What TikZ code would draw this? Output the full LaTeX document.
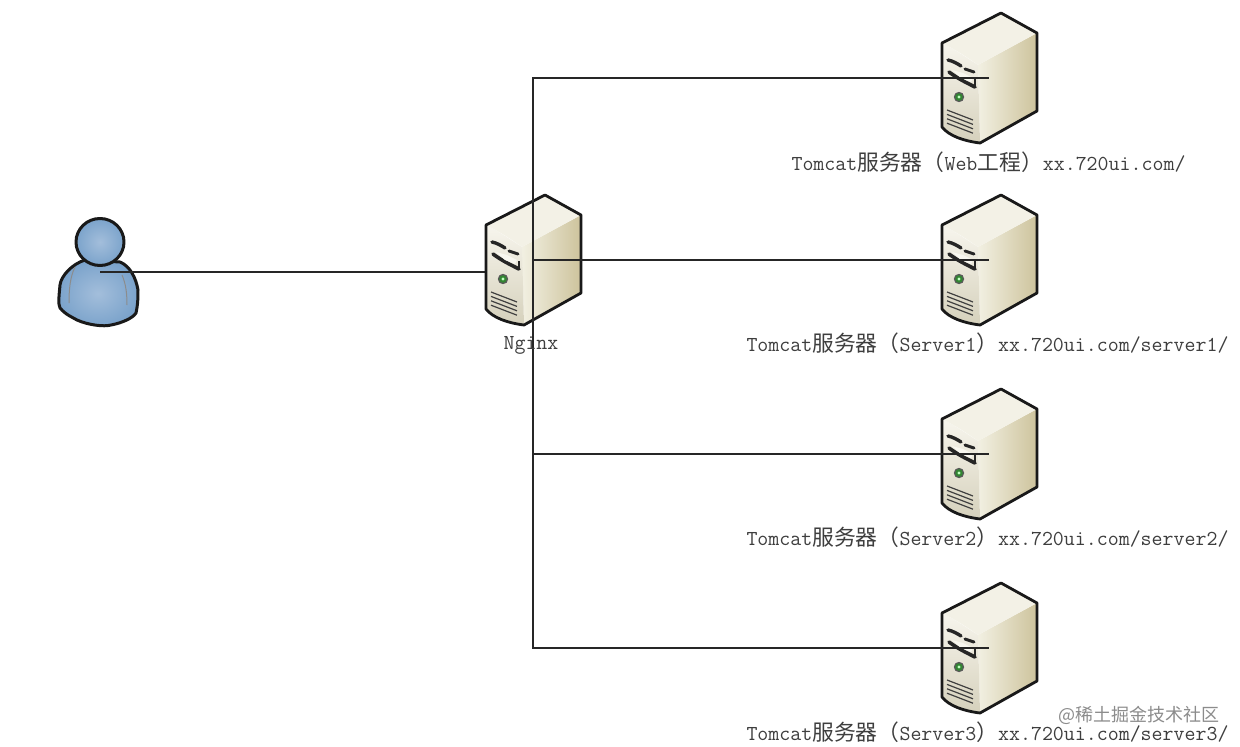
\documentclass[tikz,border=0pt]{standalone}
\usepackage{fontspec}
\newfontfamily\cjk{Noto Sans CJK SC}
\newfontfamily\lat{Latin Modern Mono}
\newcommand{\cn}[1]{{\cjk\fontsize{21.8}{24}\selectfont #1}}
\definecolor{topc}{HTML}{F3F1E6}
\definecolor{frontc}{HTML}{E8E3CC}
\definecolor{sidea}{HTML}{F2F0E2}
\definecolor{sideb}{HTML}{CDC39C}
\definecolor{bluea}{HTML}{A3BEDB}
\definecolor{blueb}{HTML}{7BA3CB}
\definecolor{labelc}{HTML}{3E3E3E}
\tikzset{
  x=1pt,y=-1pt,
  hub/.style={inner sep=0pt,minimum size=1pt},
  lab/.style={inner sep=0pt,text=labelc,font=\lat\fontsize{21.3}{24}\selectfont},
  wire/.style={draw=black!85,line width=1.2pt},
  outline/.style={draw=black!90,line width=2.8pt,line join=round},
  serverpic/.pic={
    % right face
    \path[left color=sidea,right color=sideb] (-11,-13) -- (48,-45) -- (48,33) -- (-9,65) -- cycle;
    % front face
    \path[top color=frontc!35!white,bottom color=frontc!92!black] (-47,-35) .. controls (-33,-28) and (-22,-20) .. (-11,-13) -- (-9,65) .. controls (-25,63) and (-40,58) .. (-47,49) -- cycle;
    % top face
    \path[fill=topc] (-47,-35) -- (12,-65) -- (48,-45) -- (-11,-13) .. controls (-22,-21) and (-33,-28) .. (-47,-35) -- cycle;
    % slots
    \draw[line width=3.4pt,black!85,line cap=round] (-41,-18) .. controls (-36,-17) and (-31,-14) .. (-28,-12);
    \draw[line width=3pt,black!85,line cap=round] (-24,-9) -- (-15,-6);
    \draw[line width=3.6pt,black!85,line cap=round] (-40,-6) .. controls (-32,0) and (-24,4) .. (-14,9);
    \draw[line width=1.4pt,black!85] (-14,10) -- (-14,1);
    \path[fill=frontc!30!white] (-37,-8) -- (-26,-5) -- (-16,0) -- (-18,4) -- (-28,0) -- cycle;
    % LED
    \fill[black!65] (-30,19) circle (5.2);
    \fill[green!40!black!80] (-30,19) circle (3.8);
    \fill[green!25!white] (-30,19) circle (1.6);
    % vents
    \foreach \d in {0,4.4,8.8,13.2}
      \draw[line width=1.2pt,black!75] (-42,32+\d) -- (-16,42+\d);
    % outline
    \draw[outline] (-47,-35) -- (12,-65) -- (48,-45) -- (48,33) -- (-9,65) .. controls (-25,63) and (-40,58) .. (-47,49) -- cycle;
  },
  userpic/.pic={
    \draw[outline,line width=3pt,inner color=bluea,outer color=blueb]
      (-15,-12) .. controls (-28,-8) and (-39,4) .. (-40,13)
      .. controls (-41,24) and (-42,32) .. (-40,36)
      .. controls (-34,43) and (-28,45) .. (-23,48)
      .. controls (-12,53) and (4,55) .. (11,53)
      .. controls (22,51) and (33,46) .. (36,41)
      .. controls (38,32) and (38,24) .. (38,18)
      .. controls (36,6) and (30,-6) .. (20,-10) -- cycle;
    \draw[line width=1pt,black!45] (-25,-5) .. controls (-30,5) and (-31,18) .. (-31,31);
    \draw[line width=1pt,black!45] (22,3) .. controls (26,12) and (27,22) .. (27,33);
    \draw[outline,line width=3pt,inner color=bluea,outer color=blueb] (0,-30) circle [x radius=24,y radius=23.5];
  }
}
\begin{document}
\begin{tikzpicture}
\useasboundingbox (0,0) rectangle (1240,747);
\fill[white] (0,0) rectangle (1240,747);

\node[hub] (user) at (100,272) {};
\node[hub] (nginx) at (533,260) {};
\node[hub] (web) at (989,78) {};
\node[hub] (s1) at (989,260) {};
\node[hub] (s2) at (989,454) {};
\node[hub] (s3) at (989,648) {};
\coordinate (nginxin) at (486,272);

\pic at (user) {userpic};
\draw[wire] (user.center) -- (nginxin);
\pic at (nginx) {serverpic};
\pic at (web) {serverpic};
\pic at (s1) {serverpic};
\pic at (s2) {serverpic};
\pic at (s3) {serverpic};

\draw[wire] (nginx.center) |- (web.center);
\draw[wire] (nginx.center) -- (s1.center);
\draw[wire] (nginx.center) |- (s2.center);
\draw[wire] (nginx.center) |- (s3.center);

\node[lab] (lnginx) at (531,345) {Nginx};
\node[lab] (lweb) at (988.5,162) {Tomcat\cn{服务器（}Web\cn{工程）}xx.720ui.com/};
\node[lab] (ls1) at (987.5,343) {Tomcat\cn{服务器（}Server1\cn{）}xx.720ui.com/server1/};
\node[lab] (ls2) at (987.5,537) {Tomcat\cn{服务器（}Server2\cn{）}xx.720ui.com/server2/};
\node[lab] (ls3) at (987.5,732) {Tomcat\cn{服务器（}Server3\cn{）}xx.720ui.com/server3/};
\node[inner sep=0pt,text=black!45,font=\cjk\fontsize{18}{20}\selectfont] (mark) at (1139,715) {@稀土掘金技术社区};
\end{tikzpicture}
\end{document}
